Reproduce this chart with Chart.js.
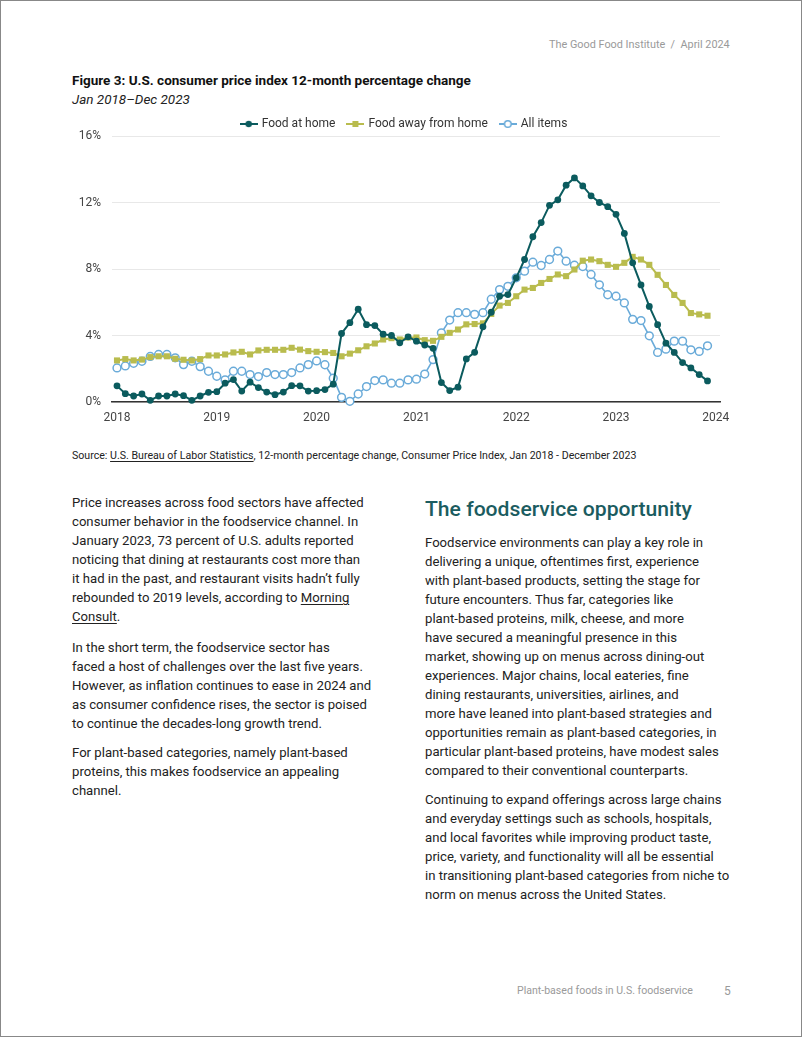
<!DOCTYPE html>
<html>
<head>
<meta charset="utf-8">
<script src="https://cdn.jsdelivr.net/npm/chart.js@4.4.1/dist/chart.umd.min.js"></script>
<style>
html,body{margin:0;padding:0;background:#fff;}
body{width:802px;height:1037px;position:relative;overflow:hidden;font-family:Roboto,"Liberation Sans",sans-serif;color:#222;}
#frame{position:absolute;left:0;top:0;width:800px;height:1035px;border:1px solid #888;pointer-events:none;}
.abs{position:absolute;white-space:nowrap;}
.body{font-size:13.5px;line-height:19px;color:#222;}
u{text-decoration-thickness:1px;text-underline-offset:2px;}
#chartBox{position:absolute;left:60px;top:101px;width:680px;height:331px;}
</style>
</head>
<body>
<div id="frame"></div>
<div class="abs" id="hdr" style="left:549px;top:37px;font-size:12px;line-height:16px;color:#9a9a9a;">The Good Food Institute&nbsp;&nbsp;/&nbsp;&nbsp;April 2024</div>

<div class="abs" id="title" style="left:72px;top:71px;font-size:14px;line-height:18px;font-weight:bold;color:#111;">Figure 3: U.S. consumer price index 12-month percentage change</div>
<div class="abs" id="subtitle" style="left:72px;top:90px;font-size:14px;line-height:18px;font-style:italic;color:#222;">Jan 2018–Dec 2023</div>

<div id="chartBox"><canvas id="c"></canvas></div>

<div class="abs" id="source" style="left:72px;top:449px;font-size:11px;line-height:14px;color:#222;">Source: <u>U.S. Bureau of Labor Statistics</u>, 12-month percentage change, Consumer Price Index, Jan 2018 - December 2023</div>

<div class="abs body" id="lp1" style="left:72px;top:493px;">Price increases across food sectors have affected<br>consumer behavior in the foodservice channel. In<br>January 2023, 73 percent of U.S. adults reported<br>noticing that dining at restaurants cost more than<br>it had in the past, and restaurant visits hadn’t fully<br>rebounded to 2019 levels, according to <u>Morning</u><br><u>Consult</u>.</div>
<div class="abs body" id="lp2" style="left:72px;top:638px;">In the short term, the foodservice sector has<br>faced a host of challenges over the last five years.<br>However, as inflation continues to ease in 2024 and<br>as consumer confidence rises, the sector is poised<br>to continue the decades-long growth trend.</div>
<div class="abs body" id="lp3" style="left:72px;top:743px;">For plant-based categories, namely plant-based<br>proteins, this makes foodservice an appealing<br>channel.</div>

<div class="abs" id="heading" style="left:425px;top:496px;font-size:22px;line-height:26px;font-weight:500;color:#1b5c60;">The foodservice opportunity</div>
<div class="abs body" id="rp1" style="left:425px;top:533px;">Foodservice environments can play a key role in<br>delivering a unique, oftentimes first, experience<br>with plant-based products, setting the stage for<br>future encounters. Thus far, categories like<br>plant-based proteins, milk, cheese, and more<br>have secured a meaningful presence in this<br>market, showing up on menus across dining-out<br>experiences. Major chains, local eateries, fine<br>dining restaurants, universities, airlines, and<br>more have leaned into plant-based strategies and<br>opportunities remain as plant-based categories, in<br>particular plant-based proteins, have modest sales<br>compared to their conventional counterparts.</div>
<div class="abs body" id="rp2" style="left:425px;top:790px;">Continuing to expand offerings across large chains<br>and everyday settings such as schools, hospitals,<br>and local favorites while improving product taste,<br>price, variety, and functionality will all be essential<br>in transitioning plant-based categories from niche to<br>norm on menus across the United States.</div>

<div class="abs" id="foot" style="left:517px;top:983px;font-size:12px;line-height:16px;color:#9a9a9a;">Plant-based foods in U.S. foodservice</div>
<div class="abs" style="left:724px;top:983px;font-size:12px;line-height:16px;color:#9a9a9a;">5</div>

<script>
// ---- Data, monthly Jan 2018 – Dec 2023 ----
const yearLabels = ['2018','2019','2020','2021','2022','2023','2024'];
const seriesNames = ['Food at home','Food away from home','All items'];
const yTickValues = [0,4,8,12,16];

const foodAtHome = [
  0.97,0.50,0.36,0.48,0.10,0.36,0.36,0.48,0.38,0.10,0.36,0.58,
  0.62,1.13,1.35,0.66,1.19,0.87,0.60,0.44,0.60,0.98,0.97,0.66,
  0.68,0.75,1.07,4.12,4.77,5.58,4.65,4.60,4.08,4.00,3.56,3.92,
  3.66,3.43,3.23,1.17,0.69,0.89,2.59,2.99,4.52,5.40,6.36,6.46,
  7.47,8.57,9.94,10.79,11.83,12.16,13.04,13.48,13.00,12.40,12.00,11.75,
  11.29,10.14,8.37,7.04,5.75,4.65,3.54,2.98,2.37,2.05,1.65,1.27
];
const foodAway = [
  2.50,2.58,2.50,2.55,2.70,2.75,2.75,2.60,2.54,2.50,2.58,2.80,
  2.80,2.86,2.98,3.02,2.86,3.10,3.14,3.14,3.14,3.26,3.15,3.06,
  3.02,3.00,2.95,2.75,2.91,3.11,3.35,3.52,3.76,3.84,3.76,3.88,
  3.88,3.72,3.68,3.92,4.16,4.36,4.67,4.69,4.73,5.30,5.80,5.96,
  6.36,6.76,6.86,7.16,7.40,7.67,7.57,7.97,8.50,8.57,8.47,8.25,
  8.13,8.37,8.73,8.57,8.25,7.65,7.04,6.44,5.96,5.35,5.27,5.19
];
const allItems = [
  2.05,2.17,2.33,2.45,2.74,2.86,2.86,2.66,2.25,2.45,2.13,1.85,
  1.55,1.33,1.85,1.85,1.65,1.53,1.77,1.65,1.65,1.77,2.05,2.25,
  2.47,2.24,1.43,0.28,0.04,0.48,0.93,1.29,1.33,1.13,1.13,1.33,
  1.37,1.68,2.55,4.16,4.93,5.37,5.37,5.27,5.37,6.18,6.76,6.96,
  7.47,7.87,8.41,8.21,8.57,9.08,8.47,8.23,8.15,7.67,7.05,6.45,
  6.36,5.96,4.97,4.90,3.98,2.98,3.18,3.66,3.66,3.14,3.04,3.38
];

// ---- Fit text widths to the reference ----
function fitW(id, target){
  const el=document.getElementById(id);
  const w=el.getBoundingClientRect().width;
  const fs=parseFloat(getComputedStyle(el).fontSize);
  const nfs=fs*target/w; el.style.fontSize=nfs+'px'; return nfs;
}
const bodyFs = fitW('lp1', 292);
['lp2','lp3','rp1','rp2'].forEach(id=>document.getElementById(id).style.fontSize=bodyFs+'px');
fitW('title', 399);
fitW('subtitle', 118);
fitW('source', 565);
fitW('heading', 267);
fitW('hdr', 181);
fitW('foot', 176);

// ---- Chart ----
const C_HOME='#0b5b5e', C_AWAY='#b9bc4e', C_ALL='#6aabd9';
const FONT='Roboto, "Liberation Sans", sans-serif';
const toXY = arr => arr.map((v,i)=>({x:i,y:v}));

function legendIcon(color, kind){
  const c=document.createElement('canvas'); c.width=18; c.height=10;
  const g=c.getContext('2d');
  g.strokeStyle=color; g.lineWidth=2; g.beginPath(); g.moveTo(0,5); g.lineTo(18,5); g.stroke();
  if(kind==='circle'){ g.fillStyle=color; g.beginPath(); g.arc(9,5,3.2,0,Math.PI*2); g.fill(); }
  else if(kind==='rect'){ g.fillStyle=color; g.fillRect(6,2,6,6); }
  else { g.fillStyle='#fff'; g.lineWidth=1.5; g.beginPath(); g.arc(9,5,3.3,0,Math.PI*2); g.fill(); g.stroke(); }
  return c;
}
const icons=[legendIcon(C_HOME,'circle'),legendIcon(C_AWAY,'rect'),legendIcon(C_ALL,'open')];

// Nudge legend box so it is centred over the page like the reference
const legendNudge={id:'legendNudge',afterLayout(chart){
  const l=chart.legend; if(!l) return;
  l.left+=14.5; l.right+=14.5; l.top+=4; l.bottom+=4;
}};

new Chart(document.getElementById('c'),{
  type:'line',
  data:{datasets:[
    {label:seriesNames[0],data:toXY(foodAtHome),borderColor:C_HOME,backgroundColor:C_HOME,borderWidth:2,
     pointStyle:'circle',pointRadius:3.4,pointBackgroundColor:C_HOME,pointBorderWidth:0,tension:0,clip:false},
    {label:seriesNames[1],data:toXY(foodAway),borderColor:C_AWAY,backgroundColor:C_AWAY,borderWidth:2,
     pointStyle:'rect',pointRadius:4.3,pointBackgroundColor:C_AWAY,pointBorderWidth:0,tension:0,clip:false},
    {label:seriesNames[2],data:toXY(allItems),borderColor:C_ALL,backgroundColor:'#fff',borderWidth:1.6,
     pointStyle:'circle',pointRadius:3.9,pointBackgroundColor:'#fff',pointBorderColor:C_ALL,pointBorderWidth:1.5,tension:0,clip:false}
  ]},
  options:{
    responsive:true, maintainAspectRatio:false, animation:false,
    layout:{padding:{left:0,right:20,top:0,bottom:0}},
    plugins:{
      tooltip:{enabled:false},
      legend:{display:true,position:'top',align:'center',
        labels:{usePointStyle:true,pointStyleWidth:14,boxHeight:10,padding:13,color:'#333',
          font:{family:FONT,size:12},
          generateLabels:(chart)=>{
            const items=Chart.defaults.plugins.legend.labels.generateLabels(chart);
            items.forEach((it,i)=>{it.pointStyle=icons[i];});
            return items;
          }}}
    },
    scales:{
      x:{type:'linear',min:-0.6,max:72.5,
        grid:{display:false,drawTicks:false},
        border:{display:true,color:'#333',width:1.5},
        ticks:{stepSize:12,includeBounds:false,autoSkip:false,maxRotation:0,padding:9,color:'#444',
          font:{family:FONT,size:12},
          callback:(v)=> (v%12===0 ? yearLabels[v/12] : '')},
        afterFit:(s)=>{s.height=30;s.paddingLeft=0;s.paddingRight=0;}
      },
      y:{min:0,max:16,
        afterBuildTicks:(s)=>{s.ticks=yTickValues.map(v=>({value:v}));},
        grid:{color:'#e8e8e8',drawTicks:false,lineWidth:1},
        border:{display:false},
        ticks:{padding:11,color:'#444',font:{family:FONT,size:12},
          callback:(v)=>v+'%'},
        afterFit:(s)=>{s.width=52;}
      }
    }
  },
  plugins:[legendNudge]
});
</script>
</body>
</html>
